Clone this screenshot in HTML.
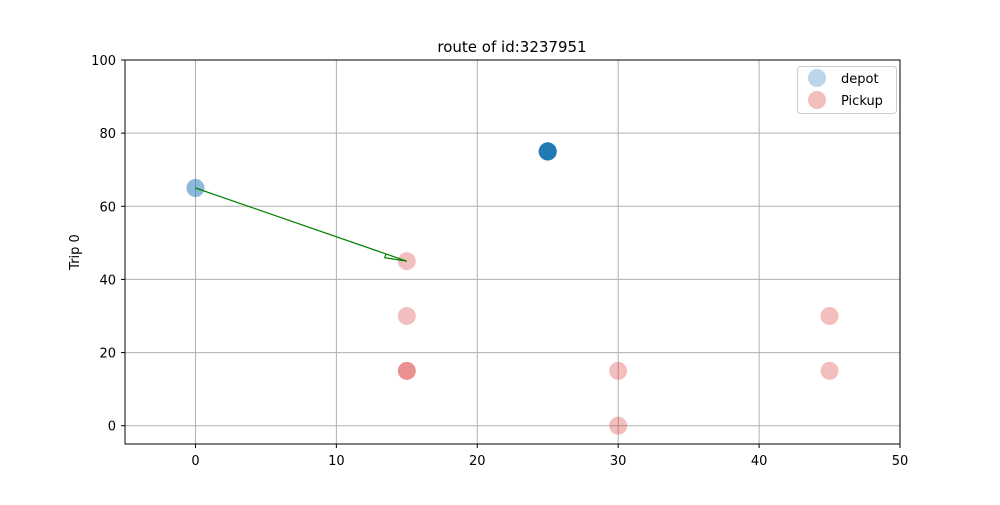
<!DOCTYPE html>
<html><head><meta charset="utf-8"><style>
body{margin:0;background:#fff;}
svg text{font-family:"DejaVu Sans","Liberation Sans",sans-serif;font-size:13px;fill:#000;}
</style></head><body>
<svg width="1000" height="500" id="c">
<text x="512" y="52" text-anchor="middle" style="font-size:15px">route of id:3237951</text>
<text transform="translate(79,252) rotate(-90)" text-anchor="middle">Trip 0</text>
<g id="grid"></g><g id="marks"></g>
<rect x="125" y="60" width="775" height="384" fill="none" stroke="#000" stroke-width="1"/>
<g>
<rect x="797.5" y="66.5" width="99" height="47" rx="3" fill="#fff" fill-opacity="0.8" stroke="#ccc"/>
<circle cx="817" cy="78" r="9" fill="#1f77b4" fill-opacity="0.3"/>
<text x="841" y="83">depot</text>
<circle cx="817" cy="100" r="9" fill="#d62728" fill-opacity="0.3"/>
<text x="841" y="105">Pickup</text>
</g>
</svg>
<script>
const xTicks=[0,10,20,30,40,50];
const yTicks=[0,20,40,60,80,100];
const depotX=[0,0,25,25,25,25,25,25,25,25,25,25];
const depotY=[65,65,75,75,75,75,75,75,75,75,75,75];
const pickupX=[15,15,15,15,30,30,45,45];
const pickupY=[45,30,15,15,15,0,30,15];
const arrowFrom=[0,65];
const arrowTo=[15,45];
const sx=v=>125+(v+5)*775/55;
const sy=v=>444-(v+5)*384/105;
const NS="http://www.w3.org/2000/svg";
const g=document.getElementById('grid'),m=document.getElementById('marks');
function mk(t,a,p){const e=document.createElementNS(NS,t);for(const k in a)e.setAttribute(k,a[k]);p.appendChild(e);return e;}
xTicks.forEach(v=>{const x=sx(v);
const l=mk('line',{x1:x,x2:x,y1:60,y2:444,stroke:'#b0b0b0','stroke-width':1},g);


mk('line',{x1:x,x2:x,y1:444,y2:448,stroke:'#000'},g);
const t=mk('text',{x:x,y:465,'text-anchor':'middle'},g);t.textContent=v;

});
yTicks.forEach(v=>{const y=sy(v);
const l=mk('line',{x1:125,x2:900,y1:y,y2:y,stroke:'#b0b0b0','stroke-width':1},g);


mk('line',{x1:121,x2:125,y1:y,y2:y,stroke:'#000'},g);
const t=mk('text',{x:116,y:y+5,'text-anchor':'end'},g);t.textContent=v;

});
depotX.forEach((v,i)=>{const c=mk('circle',{cx:sx(v),cy:sy(depotY[i]),r:9,fill:'#1f77b4','fill-opacity':0.3},m);

});
pickupX.forEach((v,i)=>{const c=mk('circle',{cx:sx(v),cy:sy(pickupY[i]),r:9,fill:'#d62728','fill-opacity':0.3},m);

});
const x1=sx(arrowFrom[0]),y1=sy(arrowFrom[1]),x2=sx(arrowTo[0]),y2=sy(arrowTo[1]);
const dx=x2-x1,dy=y2-y1,L=Math.hypot(dx,dy),ux=dx/L,uy=dy/L;
const hx=x2-ux*22,hy=y2-uy*22;
const a=mk('path',{d:`M${x1},${y1}L${x2},${y2}L${hx-uy*4},${hy+ux*4}L${hx},${hy}`,fill:'none',stroke:'green','stroke-width':1.2},m);


</script>
</body></html>
